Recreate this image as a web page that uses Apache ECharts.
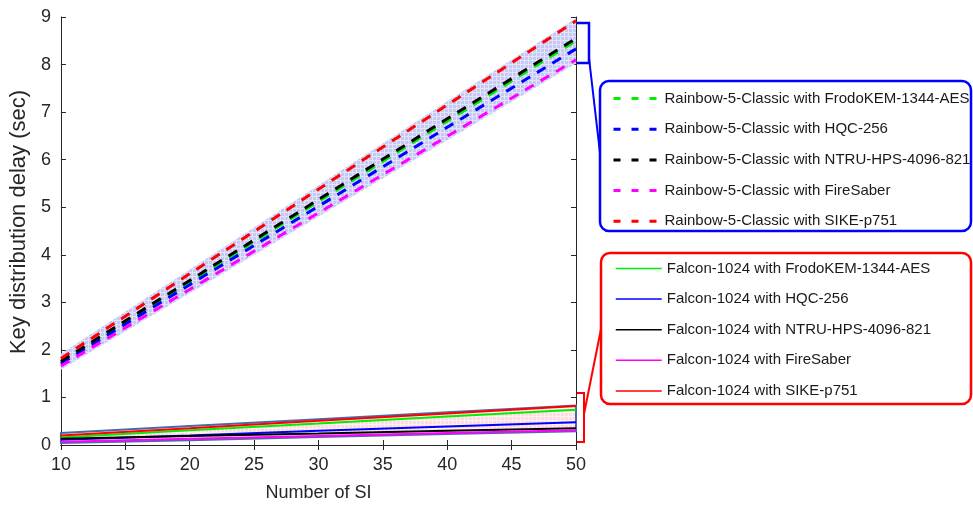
<!DOCTYPE html>
<html>
<head>
<meta charset="utf-8">
<script src="https://cdn.jsdelivr.net/npm/echarts@6/dist/echarts.min.js"></script>
<style>
  html, body { margin: 0; padding: 0; background: #fff; }
  #chart { width: 973px; height: 507px; }
</style>
</head>
<body>
<div id="chart"></div>
<script>
// number of SI
var si = [10, 20, 30, 40, 50]

// Rainbow-5-Classic (dashed)
var rainbowFrodo = [1.74, 3.43, 5.12, 6.81, 8.50]
var rainbowHqc = [1.71, 3.37, 5.02, 6.68, 8.33]
var rainbowNtru = [1.76, 3.46, 5.16, 6.86, 8.55]
var rainbowSaber = [1.66, 3.27, 4.88, 6.49, 8.10]
var rainbowSike = [1.82, 3.60, 5.38, 7.15, 8.92]
var rainbowBandLow = [1.58, 3.19, 4.80, 6.41, 8.02]
var rainbowBandHigh = [1.92, 3.69, 5.46, 7.23, 8.98]

// Falcon-1024 (solid)
var falconFrodo = [0.16, 0.31, 0.45, 0.60, 0.74]
var falconHqc = [0.11, 0.20, 0.30, 0.39, 0.48]
var falconNtru = [0.13, 0.19, 0.24, 0.30, 0.35]
var falconSaber = [0.07, 0.13, 0.19, 0.25, 0.31]
var falconSike = [0.20, 0.35, 0.51, 0.66, 0.82]
var falconBandLow = [0.04, 0.10, 0.17, 0.23, 0.29]
var falconBandHigh = [0.25, 0.40, 0.54, 0.69, 0.83]

var names = ['FrodoKEM-1344-AES', 'HQC-256', 'NTRU-HPS-4096-821', 'FireSaber', 'SIKE-p751']
var colors = ['#00ee00', '#0000ff', '#000000', '#ff00ff', '#ff0000']
var rainbowData = [rainbowFrodo, rainbowHqc, rainbowNtru, rainbowSaber, rainbowSike]
var falconData = [falconFrodo, falconHqc, falconNtru, falconSaber, falconSike]

function pair(ys) {
  return si.map(function(x, i) { return [x, ys[i]] })
}
function hatch(bg, fg) {
  var c = document.createElement('canvas')
  c.width = 4
  c.height = 4
  var g = c.getContext('2d')
  g.fillStyle = bg
  g.fillRect(0, 0, 4, 4)
  g.fillStyle = fg
  g.fillRect(0, 0, 4, 1)
  g.fillRect(0, 0, 1, 4)
  return { image: c, repeat: 'repeat' }
}
// shaded envelope between two curves, drawn as one polygon through the axes
function band(low, high, fill, stroke) {
  return {
    type: 'custom',
    silent: true,
    data: si.map(function(x, i) { return [x, low[i], high[i]] }),
    encode: { x: 0, y: [1, 2] },
    renderItem: function(params, api) {
      if (params.dataIndex !== 0) return null
      var top = []
      var bottom = []
      for (var i = 0; i < si.length; i++) {
        top.push(api.coord([si[i], high[i]]))
        bottom.unshift(api.coord([si[i], low[i]]))
      }
      return {
        type: 'polygon',
        shape: { points: top.concat(bottom) },
        style: { fill: fill, stroke: stroke || null, lineWidth: 2 }
      }
    }
  }
}

var font = 'Liberation Sans'
var axisColor = '#262626'

var series = [
  band(rainbowBandLow, rainbowBandHigh, hatch('#c6c9f4', '#e2e4fb')),
  band(falconBandLow, falconBandHigh, hatch('#fcdce1', '#fff0f2'), '#4a6aa6')
]
names.forEach(function(n, i) {
  series.push({
    name: 'Rainbow-5-Classic with ' + n,
    type: 'line',
    data: pair(rainbowData[i]),
    symbol: 'none',
    lineStyle: { color: colors[i], width: 3, type: [10, 8] },
    itemStyle: { color: colors[i] }
  })
})
names.forEach(function(n, i) {
  series.push({
    name: 'Falcon-1024 with ' + n,
    type: 'line',
    data: pair(falconData[i]),
    symbol: 'none',
    lineStyle: { color: colors[i], width: 2 },
    itemStyle: { color: colors[i] }
  })
})

var legendText = { fontFamily: font, fontSize: 15, color: '#1a1a1a', lineHeight: 14 }

var option = {
  animation: false,
  grid: { left: 57, right: 397, top: 17, bottom: 60 },
  xAxis: [
    { type: 'value', min: 10, max: 50, interval: 5,
      name: 'Number of SI', nameLocation: 'middle', nameGap: 39,
      nameTextStyle: { fontFamily: font, fontSize: 18, color: axisColor },
      axisLine: { lineStyle: { color: axisColor } },
      axisTick: { inside: true, length: 5, lineStyle: { color: axisColor } },
      axisLabel: { fontFamily: font, fontSize: 18, color: axisColor, margin: 11 },
      splitLine: { show: false } },
    { type: 'value', min: 10, max: 50, interval: 5, position: 'top',
      axisLine: { lineStyle: { color: axisColor } },
      axisTick: { inside: true, length: 5, lineStyle: { color: axisColor } },
      axisLabel: { show: false }, splitLine: { show: false } }
  ],
  yAxis: [
    { type: 'value', min: 0, max: 9, interval: 1,
      name: 'Key distribution delay (sec)', nameLocation: 'middle', nameGap: 22,
      nameTextStyle: { fontFamily: font, fontSize: 22, color: axisColor, padding: [0, 0, 0, 18] },
      axisLine: { show: true, lineStyle: { color: axisColor } },
      axisTick: { show: true, inside: true, length: 5, lineStyle: { color: axisColor } },
      axisLabel: { fontFamily: font, fontSize: 18, color: axisColor, margin: 10 },
      splitLine: { show: false } },
    { type: 'value', min: 0, max: 9, interval: 1, position: 'right',
      axisLine: { show: true, lineStyle: { color: axisColor } },
      axisTick: { show: true, inside: true, length: 5, lineStyle: { color: axisColor } },
      axisLabel: { show: false }, splitLine: { show: false } }
  ],
  legend: [
    { orient: 'vertical', left: 612, top: 91, padding: 0, itemWidth: 46, itemHeight: 14, itemGap: 15.7,
      itemStyle: { opacity: 0 }, lineStyle: { type: [7, 11], width: 3 }, textStyle: legendText,
      data: names.map(function(n) { return 'Rainbow-5-Classic with ' + n }) },
    { orient: 'vertical', left: 615, top: 261, padding: 0, itemWidth: 46, itemHeight: 14, itemGap: 15.6,
      itemStyle: { opacity: 0 }, lineStyle: { width: 1.5 }, textStyle: legendText,
      data: names.map(function(n) { return 'Falcon-1024 with ' + n }) }
  ],
  graphic: [
    { type: 'rect', z: 1, shape: { x: 600, y: 81, width: 371, height: 150, r: 9 },
      style: { fill: '#fff', stroke: '#0000ff', lineWidth: 2.5 } },
    { type: 'rect', z: 1, shape: { x: 601, y: 253, width: 370, height: 151, r: 9 },
      style: { fill: '#fff', stroke: '#ff0000', lineWidth: 2.5 } },
    { type: 'polyline', z: 1, shape: { points: [[577, 23], [589, 23], [589, 63], [577, 63]] },
      style: { fill: null, stroke: '#0000ff', lineWidth: 2.5 } },
    { type: 'line', z: 1, shape: { x1: 589, y1: 58, x2: 600, y2: 153 },
      style: { stroke: '#0000ff', lineWidth: 2 } },
    { type: 'polyline', z: 1, shape: { points: [[577, 393], [584, 393], [584, 442], [577, 442]] },
      style: { fill: null, stroke: '#ff0000', lineWidth: 2 } },
    { type: 'line', z: 1, shape: { x1: 584, y1: 414, x2: 601, y2: 329 },
      style: { stroke: '#ff0000', lineWidth: 2 } }
  ],
  series: series
}

var chart = echarts.init(document.getElementById('chart'))
chart.setOption(option)
window.addEventListener('resize', function() {
  chart.resize()
})
</script>
</body>
</html>
